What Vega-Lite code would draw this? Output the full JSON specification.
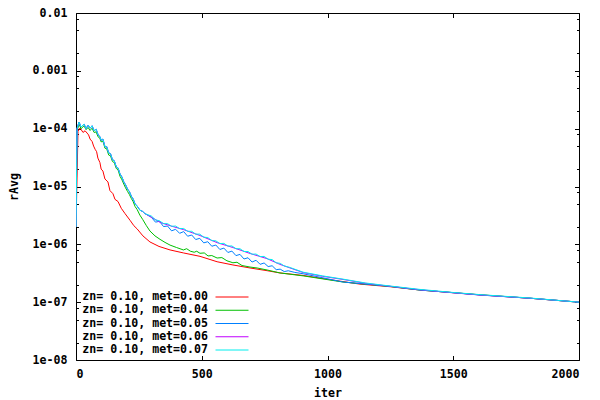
{
"$schema": "https://vega.github.io/schema/vega-lite/v6.json",
"width": 503, "height": 347,
"autosize": {"type": "none"},
"padding": {"left": 76, "top": 13, "right": 21, "bottom": 40},
"background": "white",
"config": {
  "view": {"stroke": "black", "strokeWidth": 1},
  "font": "DejaVu Sans Mono",
  "axis": {"grid": false, "domain": false, "tickColor": "black", "tickWidth": 1, "labelFont": "DejaVu Sans Mono", "labelFontSize": 11.6, "labelFontWeight": "bold", "labelColor": "black", "titleFont": "DejaVu Sans Mono", "titleFontSize": 11.6, "titleFontWeight": "bold", "titleColor": "black"}
},
"data": {"values": [
{"m":"0.00","i":0,"v":2e-6},{"m":"0.00","i":8,"v":9e-5},{"m":"0.00","i":16,"v":1.03e-4},{"m":"0.00","i":28,"v":8.6e-5},{"m":"0.00","i":36,"v":9.2e-5},{"m":"0.00","i":44,"v":8.4e-5},{"m":"0.00","i":50,"v":7.8e-5},{"m":"0.00","i":56,"v":6.6e-5},{"m":"0.00","i":64,"v":6.0e-5},{"m":"0.00","i":70,"v":5.0e-5},{"m":"0.00","i":76,"v":4.4e-5},{"m":"0.00","i":82,"v":4.0e-5},{"m":"0.00","i":87,"v":3.1e-5},{"m":"0.00","i":95,"v":2.6e-5},{"m":"0.00","i":100,"v":2.0e-5},{"m":"0.00","i":107,"v":1.85e-5},{"m":"0.00","i":115,"v":1.35e-5},{"m":"0.00","i":127,"v":1.2e-5},{"m":"0.00","i":135,"v":8.5e-6},{"m":"0.00","i":147,"v":7.5e-6},{"m":"0.00","i":155,"v":6.0e-6},{"m":"0.00","i":167,"v":5.5e-6},{"m":"0.00","i":180,"v":4.2e-6},{"m":"0.00","i":195,"v":3.4e-6},{"m":"0.00","i":215,"v":2.6e-6},{"m":"0.00","i":230,"v":2.1e-6},{"m":"0.00","i":243,"v":1.85e-6},{"m":"0.00","i":266,"v":1.4e-6},{"m":"0.00","i":294,"v":1.1e-6},{"m":"0.00","i":330,"v":9.2e-7},{"m":"0.00","i":374,"v":8.0e-7},{"m":"0.00","i":427,"v":7.1e-7},{"m":"0.00","i":493,"v":6.2e-7},{"m":"0.00","i":561,"v":5.0e-7},{"m":"0.00","i":624,"v":4.4e-7},{"m":"0.00","i":692,"v":3.9e-7},{"m":"0.00","i":760,"v":3.5e-7},{"m":"0.00","i":811,"v":3.2e-7},{"m":"0.00","i":903,"v":2.9e-7},{"m":"0.00","i":1010,"v":2.45e-7},{"m":"0.00","i":1129,"v":2.05e-7},{"m":"0.00","i":1249,"v":1.85e-7},{"m":"0.00","i":1368,"v":1.62e-7},{"m":"0.00","i":1500,"v":1.46e-7},{"m":"0.00","i":1606,"v":1.34e-7},{"m":"0.00","i":1805,"v":1.17e-7},{"m":"0.00","i":2000,"v":1.0e-7},

{"m":"0.04","i":0,"v":2e-6},{"m":"0.04","i":4,"v":9e-5},{"m":"0.04","i":12,"v":1.2e-4},{"m":"0.04","i":20,"v":1.0e-4},{"m":"0.04","i":32,"v":1.12e-4},{"m":"0.04","i":40,"v":9.6e-5},{"m":"0.04","i":48,"v":1.05e-4},{"m":"0.04","i":56,"v":9.3e-5},{"m":"0.04","i":64,"v":1.02e-4},{"m":"0.04","i":72,"v":8.6e-5},{"m":"0.04","i":80,"v":8.8e-5},{"m":"0.04","i":88,"v":7.2e-5},{"m":"0.04","i":95,"v":6.8e-5},{"m":"0.04","i":100,"v":5.9e-5},{"m":"0.04","i":107,"v":6.1e-5},{"m":"0.04","i":115,"v":4.6e-5},{"m":"0.04","i":122,"v":4.5e-5},{"m":"0.04","i":130,"v":3.5e-5},{"m":"0.04","i":137,"v":3.4e-5},{"m":"0.04","i":145,"v":2.7e-5},{"m":"0.04","i":152,"v":2.6e-5},{"m":"0.04","i":160,"v":2.05e-5},{"m":"0.04","i":167,"v":1.95e-5},{"m":"0.04","i":175,"v":1.5e-5},{"m":"0.04","i":183,"v":1.3e-5},{"m":"0.04","i":190,"v":1.1e-5},{"m":"0.04","i":197,"v":9.5e-6},{"m":"0.04","i":205,"v":8.2e-6},{"m":"0.04","i":212,"v":7.3e-6},{"m":"0.04","i":220,"v":6.2e-6},{"m":"0.04","i":227,"v":5.5e-6},{"m":"0.04","i":235,"v":4.5e-6},{"m":"0.04","i":243,"v":4.0e-6},{"m":"0.04","i":254,"v":3.2e-6},{"m":"0.04","i":265,"v":2.7e-6},{"m":"0.04","i":280,"v":2.1e-6},{"m":"0.04","i":294,"v":1.7e-6},{"m":"0.04","i":314,"v":1.4e-6},{"m":"0.04","i":334,"v":1.22e-6},{"m":"0.04","i":354,"v":1.08e-6},{"m":"0.04","i":374,"v":9.7e-7},{"m":"0.04","i":400,"v":8.8e-7},{"m":"0.04","i":427,"v":8.0e-7},{"m":"0.04","i":440,"v":8.4e-7},{"m":"0.04","i":455,"v":7.6e-7},{"m":"0.04","i":470,"v":7.3e-7},{"m":"0.04","i":480,"v":7.6e-7},{"m":"0.04","i":493,"v":7.0e-7},{"m":"0.04","i":510,"v":7.1e-7},{"m":"0.04","i":525,"v":6.3e-7},{"m":"0.04","i":540,"v":6.4e-7},{"m":"0.04","i":561,"v":5.8e-7},{"m":"0.04","i":580,"v":5.9e-7},{"m":"0.04","i":600,"v":5.2e-7},{"m":"0.04","i":624,"v":4.8e-7},{"m":"0.04","i":640,"v":4.9e-7},{"m":"0.04","i":660,"v":4.3e-7},{"m":"0.04","i":692,"v":4.05e-7},{"m":"0.04","i":720,"v":3.9e-7},{"m":"0.04","i":760,"v":3.6e-7},{"m":"0.04","i":811,"v":3.2e-7},{"m":"0.04","i":903,"v":2.85e-7},{"m":"0.04","i":1062,"v":2.23e-7},{"m":"0.04","i":1249,"v":1.87e-7},{"m":"0.04","i":1368,"v":1.62e-7},{"m":"0.04","i":1500,"v":1.46e-7},{"m":"0.04","i":1606,"v":1.34e-7},{"m":"0.04","i":1805,"v":1.17e-7},{"m":"0.04","i":2000,"v":1.0e-7},

{"m":"0.05","i":0,"v":2e-6},{"m":"0.05","i":4,"v":1.0e-4},{"m":"0.05","i":12,"v":1.3e-4},{"m":"0.05","i":20,"v":1.07e-4},{"m":"0.05","i":32,"v":1.2e-4},{"m":"0.05","i":40,"v":1.0e-4},{"m":"0.05","i":48,"v":1.15e-4},{"m":"0.05","i":56,"v":1.02e-4},{"m":"0.05","i":64,"v":1.12e-4},{"m":"0.05","i":72,"v":9.2e-5},{"m":"0.05","i":80,"v":9.8e-5},{"m":"0.05","i":88,"v":7.8e-5},{"m":"0.05","i":95,"v":7.3e-5},{"m":"0.05","i":100,"v":6.3e-5},{"m":"0.05","i":107,"v":6.6e-5},{"m":"0.05","i":115,"v":4.9e-5},{"m":"0.05","i":122,"v":4.9e-5},{"m":"0.05","i":130,"v":3.8e-5},{"m":"0.05","i":137,"v":3.7e-5},{"m":"0.05","i":145,"v":2.9e-5},{"m":"0.05","i":152,"v":2.8e-5},{"m":"0.05","i":160,"v":2.2e-5},{"m":"0.05","i":167,"v":2.1e-5},{"m":"0.05","i":175,"v":1.65e-5},{"m":"0.05","i":183,"v":1.45e-5},{"m":"0.05","i":190,"v":1.2e-5},{"m":"0.05","i":197,"v":1.07e-5},{"m":"0.05","i":205,"v":9.0e-6},{"m":"0.05","i":212,"v":8.2e-6},{"m":"0.05","i":220,"v":6.8e-6},{"m":"0.05","i":227,"v":6.1e-6},{"m":"0.05","i":235,"v":5.0e-6},{"m":"0.05","i":243,"v":4.6e-6},{"m":"0.05","i":254,"v":3.9e-6},{"m":"0.05","i":265,"v":3.7e-6},{"m":"0.05","i":274,"v":3.4e-6},{"m":"0.05","i":300,"v":2.93e-6},{"m":"0.05","i":316,"v":2.42e-6},{"m":"0.05","i":332,"v":2.5e-6},{"m":"0.05","i":348,"v":2.03e-6},{"m":"0.05","i":364,"v":2.07e-6},{"m":"0.05","i":380,"v":1.71e-6},{"m":"0.05","i":396,"v":1.82e-6},{"m":"0.05","i":412,"v":1.55e-6},{"m":"0.05","i":428,"v":1.66e-6},{"m":"0.05","i":444,"v":1.38e-6},{"m":"0.05","i":460,"v":1.45e-6},{"m":"0.05","i":476,"v":1.21e-6},{"m":"0.05","i":492,"v":1.27e-6},{"m":"0.05","i":508,"v":1.06e-6},{"m":"0.05","i":524,"v":1.11e-6},{"m":"0.05","i":540,"v":9.27e-7},{"m":"0.05","i":556,"v":9.73e-7},{"m":"0.05","i":572,"v":8.15e-7},{"m":"0.05","i":588,"v":8.61e-7},{"m":"0.05","i":604,"v":7.23e-7},{"m":"0.05","i":620,"v":7.64e-7},{"m":"0.05","i":636,"v":6.38e-7},{"m":"0.05","i":652,"v":6.7e-7},{"m":"0.05","i":668,"v":5.58e-7},{"m":"0.05","i":684,"v":5.86e-7},{"m":"0.05","i":700,"v":4.94e-7},{"m":"0.05","i":716,"v":5.3e-7},{"m":"0.05","i":732,"v":4.51e-7},{"m":"0.05","i":748,"v":4.76e-7},{"m":"0.05","i":764,"v":4.13e-7},{"m":"0.05","i":780,"v":4.26e-7},{"m":"0.05","i":796,"v":3.65e-7},{"m":"0.05","i":812,"v":3.72e-7},{"m":"0.05","i":828,"v":3.38e-7},{"m":"0.05","i":844,"v":3.49e-7},{"m":"0.05","i":870,"v":3.27e-7},{"m":"0.05","i":903,"v":3.1e-7},{"m":"0.05","i":1062,"v":2.23e-7},{"m":"0.05","i":1249,"v":1.88e-7},{"m":"0.05","i":1368,"v":1.62e-7},{"m":"0.05","i":1500,"v":1.46e-7},{"m":"0.05","i":1606,"v":1.33e-7},{"m":"0.05","i":1805,"v":1.17e-7},{"m":"0.05","i":2000,"v":1.0e-7},

{"m":"0.06","i":0,"v":2e-6},{"m":"0.06","i":4,"v":1.0e-4},{"m":"0.06","i":12,"v":1.3e-4},{"m":"0.06","i":20,"v":1.07e-4},{"m":"0.06","i":32,"v":1.2e-4},{"m":"0.06","i":40,"v":1.0e-4},{"m":"0.06","i":48,"v":1.15e-4},{"m":"0.06","i":56,"v":1.02e-4},{"m":"0.06","i":64,"v":1.12e-4},{"m":"0.06","i":72,"v":9.2e-5},{"m":"0.06","i":80,"v":9.8e-5},{"m":"0.06","i":88,"v":7.8e-5},{"m":"0.06","i":95,"v":7.3e-5},{"m":"0.06","i":100,"v":6.3e-5},{"m":"0.06","i":107,"v":6.6e-5},{"m":"0.06","i":115,"v":4.9e-5},{"m":"0.06","i":122,"v":4.9e-5},{"m":"0.06","i":130,"v":3.8e-5},{"m":"0.06","i":137,"v":3.7e-5},{"m":"0.06","i":145,"v":2.9e-5},{"m":"0.06","i":152,"v":2.8e-5},{"m":"0.06","i":160,"v":2.2e-5},{"m":"0.06","i":167,"v":2.1e-5},{"m":"0.06","i":175,"v":1.65e-5},{"m":"0.06","i":183,"v":1.45e-5},{"m":"0.06","i":190,"v":1.2e-5},{"m":"0.06","i":197,"v":1.07e-5},{"m":"0.06","i":205,"v":9.0e-6},{"m":"0.06","i":212,"v":8.2e-6},{"m":"0.06","i":220,"v":6.8e-6},{"m":"0.06","i":227,"v":6.1e-6},{"m":"0.06","i":235,"v":5.0e-6},{"m":"0.06","i":243,"v":4.6e-6},{"m":"0.06","i":254,"v":3.9e-6},{"m":"0.06","i":265,"v":3.7e-6},{"m":"0.06","i":274,"v":3.4e-6},{"m":"0.06","i":294,"v":3.05e-6},{"m":"0.06","i":334,"v":2.4e-6},{"m":"0.06","i":374,"v":2.1e-6},{"m":"0.06","i":427,"v":1.8e-6},{"m":"0.06","i":493,"v":1.42e-6},{"m":"0.06","i":561,"v":1.07e-6},{"m":"0.06","i":624,"v":8.8e-7},{"m":"0.06","i":692,"v":6.95e-7},{"m":"0.06","i":760,"v":5.65e-7},{"m":"0.06","i":811,"v":4.5e-7},{"m":"0.06","i":903,"v":3.25e-7},{"m":"0.06","i":980,"v":2.8e-7},{"m":"0.06","i":1062,"v":2.47e-7},{"m":"0.06","i":1150,"v":2.12e-7},{"m":"0.06","i":1249,"v":1.88e-7},{"m":"0.06","i":1368,"v":1.64e-7},{"m":"0.06","i":1500,"v":1.45e-7},{"m":"0.06","i":1606,"v":1.33e-7},{"m":"0.06","i":1805,"v":1.17e-7},{"m":"0.06","i":2000,"v":1.0e-7},

{"m":"0.07","i":0,"v":2e-6},{"m":"0.07","i":4,"v":1.0e-4},{"m":"0.07","i":12,"v":1.3e-4},{"m":"0.07","i":20,"v":1.07e-4},{"m":"0.07","i":32,"v":1.2e-4},{"m":"0.07","i":40,"v":1.0e-4},{"m":"0.07","i":48,"v":1.15e-4},{"m":"0.07","i":56,"v":1.02e-4},{"m":"0.07","i":64,"v":1.12e-4},{"m":"0.07","i":72,"v":9.2e-5},{"m":"0.07","i":80,"v":9.8e-5},{"m":"0.07","i":88,"v":7.8e-5},{"m":"0.07","i":95,"v":7.3e-5},{"m":"0.07","i":100,"v":6.3e-5},{"m":"0.07","i":107,"v":6.6e-5},{"m":"0.07","i":115,"v":4.9e-5},{"m":"0.07","i":122,"v":4.9e-5},{"m":"0.07","i":130,"v":3.8e-5},{"m":"0.07","i":137,"v":3.7e-5},{"m":"0.07","i":145,"v":2.9e-5},{"m":"0.07","i":152,"v":2.8e-5},{"m":"0.07","i":160,"v":2.2e-5},{"m":"0.07","i":167,"v":2.1e-5},{"m":"0.07","i":175,"v":1.65e-5},{"m":"0.07","i":183,"v":1.45e-5},{"m":"0.07","i":190,"v":1.2e-5},{"m":"0.07","i":197,"v":1.07e-5},{"m":"0.07","i":205,"v":9.0e-6},{"m":"0.07","i":212,"v":8.2e-6},{"m":"0.07","i":220,"v":6.8e-6},{"m":"0.07","i":227,"v":6.1e-6},{"m":"0.07","i":235,"v":5.0e-6},{"m":"0.07","i":243,"v":4.6e-6},{"m":"0.07","i":254,"v":3.9e-6},{"m":"0.07","i":265,"v":3.7e-6},{"m":"0.07","i":274,"v":3.4e-6},{"m":"0.07","i":300,"v":3.08e-6},{"m":"0.07","i":316,"v":2.65e-6},{"m":"0.07","i":332,"v":2.55e-6},{"m":"0.07","i":348,"v":2.28e-6},{"m":"0.07","i":364,"v":2.28e-6},{"m":"0.07","i":380,"v":2.05e-6},{"m":"0.07","i":396,"v":2.07e-6},{"m":"0.07","i":412,"v":1.87e-6},{"m":"0.07","i":428,"v":1.88e-6},{"m":"0.07","i":444,"v":1.68e-6},{"m":"0.07","i":460,"v":1.68e-6},{"m":"0.07","i":476,"v":1.5e-6},{"m":"0.07","i":492,"v":1.5e-6},{"m":"0.07","i":508,"v":1.33e-6},{"m":"0.07","i":524,"v":1.31e-6},{"m":"0.07","i":540,"v":1.16e-6},{"m":"0.07","i":556,"v":1.15e-6},{"m":"0.07","i":572,"v":1.03e-6},{"m":"0.07","i":588,"v":1.04e-6},{"m":"0.07","i":604,"v":9.33e-7},{"m":"0.07","i":620,"v":9.38e-7},{"m":"0.07","i":636,"v":8.39e-7},{"m":"0.07","i":652,"v":8.39e-7},{"m":"0.07","i":668,"v":7.52e-7},{"m":"0.07","i":684,"v":7.5e-7},{"m":"0.07","i":700,"v":6.75e-7},{"m":"0.07","i":716,"v":6.79e-7},{"m":"0.07","i":732,"v":6.14e-7},{"m":"0.07","i":748,"v":6.18e-7},{"m":"0.07","i":764,"v":5.53e-7},{"m":"0.07","i":780,"v":5.45e-7},{"m":"0.07","i":796,"v":4.79e-7},{"m":"0.07","i":812,"v":4.69e-7},{"m":"0.07","i":828,"v":4.23e-7},{"m":"0.07","i":850,"v":3.99e-7},{"m":"0.07","i":875,"v":3.65e-7},{"m":"0.07","i":903,"v":3.3e-7},{"m":"0.07","i":980,"v":2.85e-7},{"m":"0.07","i":1062,"v":2.5e-7},{"m":"0.07","i":1150,"v":2.15e-7},{"m":"0.07","i":1249,"v":1.9e-7},{"m":"0.07","i":1368,"v":1.66e-7},{"m":"0.07","i":1500,"v":1.47e-7},{"m":"0.07","i":1606,"v":1.35e-7},{"m":"0.07","i":1805,"v":1.18e-7},{"m":"0.07","i":2000,"v":1.0e-7}
]},
"layer": [
  {
    "mark": {"type": "line", "strokeWidth": 1, "clip": true},
    "encoding": {
      "x": {"field": "i", "type": "quantitative", "scale": {"domain": [0, 2000], "nice": false},
        "axis": {"orient": "bottom", "values": [0, 500, 1000, 1500, 2000], "format": "d", "tickSize": -4.5, "labelPadding": 13, "labelDx": 1, "title": "iter", "titleY": 36, "titleBaseline": "alphabetic"}},
      "y": {"field": "v", "type": "quantitative", "scale": {"type": "log", "domain": [1e-8, 0.01], "nice": false},
        "axis": {"orient": "left", "values": [1e-8, 1e-7, 1e-6, 1e-5, 1e-4, 0.001, 0.01], "tickSize": -4.5, "labelPadding": 13.5,
          "labelExpr": "datum.value >= 0.009 ? '0.01' : (datum.value >= 0.0009 ? '0.001' : '1e-0' + round(-log(datum.value)/LN10))",
          "title": "rAvg", "titleX": -62, "titleY": 173.5, "titleAngle": -90, "titleAlign": "center", "titleBaseline": "middle"}},
      "color": {"field": "m", "type": "nominal",
        "scale": {"domain": ["0.00", "0.04", "0.05", "0.06", "0.07"], "range": ["#ff0000", "#00c000", "#0080ff", "#c000ff", "#00eeee"]},
        "legend": {"orient": "none", "legendX": 150, "legendY": 278, "title": null, "padding": 0,
          "symbolType": "M-3,0H3", "symbolSize": 121, "symbolStrokeWidth": 1,
          "labelAlign": "right", "labelOffset": -30, "labelFont": "DejaVu Sans Mono", "labelFontSize": 11.6, "labelFontWeight": "bold", "labelColor": "black",
          "rowPadding": 1.25, "labelExpr": "'zn= 0.10, met=' + datum.label"}}
    }
  },
  {
    "mark": {"type": "point", "opacity": 0},
    "encoding": {
      "x": {"field": "i", "type": "quantitative", "axis": {"orient": "top", "values": [0, 500, 1000, 1500, 2000], "tickSize": -4.5, "labels": false, "title": null}},
      "y": {"field": "v", "type": "quantitative", "axis": {"orient": "left", "values": [2e-8,5e-8,8e-8,2e-7,5e-7,8e-7,2e-6,5e-6,8e-6,2e-5,5e-5,8e-5,2e-4,5e-4,8e-4,2e-3,5e-3,8e-3], "tickSize": -2.5, "labels": false, "title": null}}
    }
  },
  {
    "mark": {"type": "point", "opacity": 0},
    "encoding": {
      "x": {"field": "i", "type": "quantitative", "axis": null},
      "y": {"field": "v", "type": "quantitative", "axis": {"orient": "right", "values": [1e-8, 1e-7, 1e-6, 1e-5, 1e-4, 0.001, 0.01], "tickSize": -4.5, "labels": false, "title": null}}
    }
  },
  {
    "mark": {"type": "point", "opacity": 0},
    "encoding": {
      "x": {"field": "i", "type": "quantitative", "axis": null},
      "y": {"field": "v", "type": "quantitative", "axis": {"orient": "right", "values": [2e-8,5e-8,8e-8,2e-7,5e-7,8e-7,2e-6,5e-6,8e-6,2e-5,5e-5,8e-5,2e-4,5e-4,8e-4,2e-3,5e-3,8e-3], "tickSize": -2.5, "labels": false, "title": null}}
    }
  }
],
"resolve": {"axis": {"x": "independent", "y": "independent"}}
}
